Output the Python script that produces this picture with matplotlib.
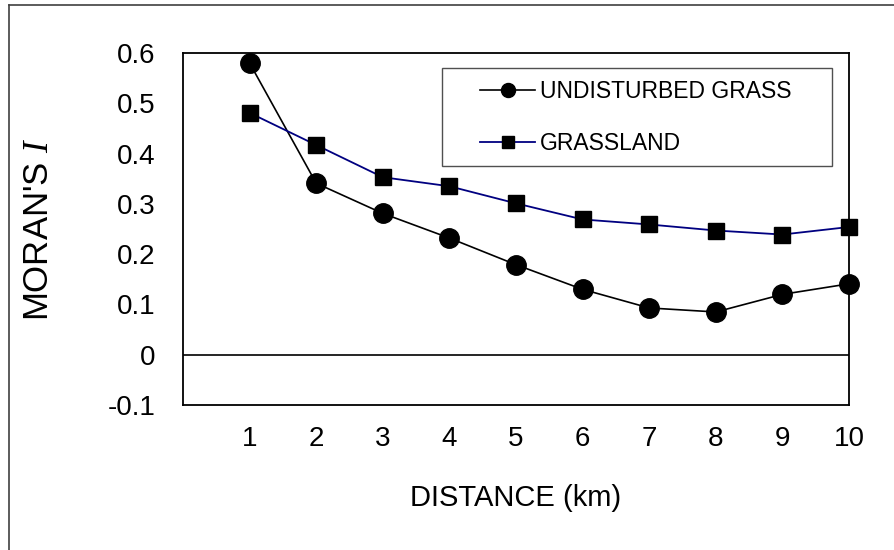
import matplotlib
matplotlib.use("Agg")
import matplotlib.pyplot as plt
from matplotlib.patches import Rectangle
from matplotlib.lines import Line2D

# data
distance = [1, 2, 3, 4, 5, 6, 7, 8, 9, 10]
undisturbed = [0.58, 0.341, 0.281, 0.232, 0.179, 0.130, 0.093, 0.085, 0.120, 0.141]
grassland = [0.481, 0.417, 0.353, 0.335, 0.301, 0.269, 0.259, 0.247, 0.239, 0.254]
yticks = [-0.1, 0, 0.1, 0.2, 0.3, 0.4, 0.5, 0.6]
ytick_labels = ["-0.1", "0", "0.1", "0.2", "0.3", "0.4", "0.5", "0.6"]

plt.rcParams["font.family"] = ["Liberation Sans", "DejaVu Sans"]
plt.rcParams["mathtext.fontset"] = "custom"
plt.rcParams["mathtext.rm"] = "Liberation Sans"
plt.rcParams["mathtext.it"] = "Liberation Serif:italic"

fig = plt.figure(figsize=(8.95, 5.5), dpi=100, facecolor="white")
ax = fig.add_axes([183 / 895, 1 - 405 / 550, 666 / 895, 352 / 550])

# outer chart border (only top and left visible)
fig.add_artist(Line2D([9 / 895, 9 / 895], [0, 1 - 5 / 550], transform=fig.transFigure,
                      color="#404040", lw=1.2))
fig.add_artist(Line2D([9 / 895, 1], [1 - 5 / 550, 1 - 5 / 550], transform=fig.transFigure,
                      color="#404040", lw=1.2))

ax.axhline(0, color="black", lw=1.2, zorder=1)

l1, = ax.plot(distance, undisturbed, color="black", lw=1.2, marker="o",
              markersize=14, markerfacecolor="black", markeredgecolor="black",
              clip_on=False, zorder=3, label="UNDISTURBED GRASS")
l2, = ax.plot(distance, grassland, color="#000080", lw=1.3, marker="s",
              markersize=12, markerfacecolor="black", markeredgecolor="black",
              clip_on=False, zorder=3, label="GRASSLAND")

ax.set_xlim(0, 10)
ax.set_ylim(-0.1, 0.6)
ax.set_xticks(distance)
ax.set_xticklabels([str(d) for d in distance])
ax.set_yticks(yticks)
ax.set_yticklabels(ytick_labels)
ax.tick_params(axis="both", length=0, labelsize=20)
ax.tick_params(axis="y", pad=20)
ax.tick_params(axis="x", pad=15)

for s in ax.spines.values():
    s.set_linewidth(1.3)
    s.set_color("black")

ax.set_xlabel("DISTANCE (km)", fontsize=21, labelpad=23)
ax.set_ylabel("MORAN'S $I$", fontsize=25, labelpad=38)

# legend frame and entries
ax.add_patch(Rectangle((0.389, 0.679), 0.586, 0.278, transform=ax.transAxes,
                       fill=False, edgecolor="#505050", lw=1.0, zorder=4))
ax.legend(handles=[l1, l2], loc="center left", bbox_to_anchor=(0.446, 0.817),
          frameon=False, fontsize=16.5, markerscale=0.72, handlelength=2.4,
          handletextpad=0.22, labelspacing=1.25, borderpad=0, borderaxespad=0)

fig.savefig("out.png", dpi=100, facecolor="white")
